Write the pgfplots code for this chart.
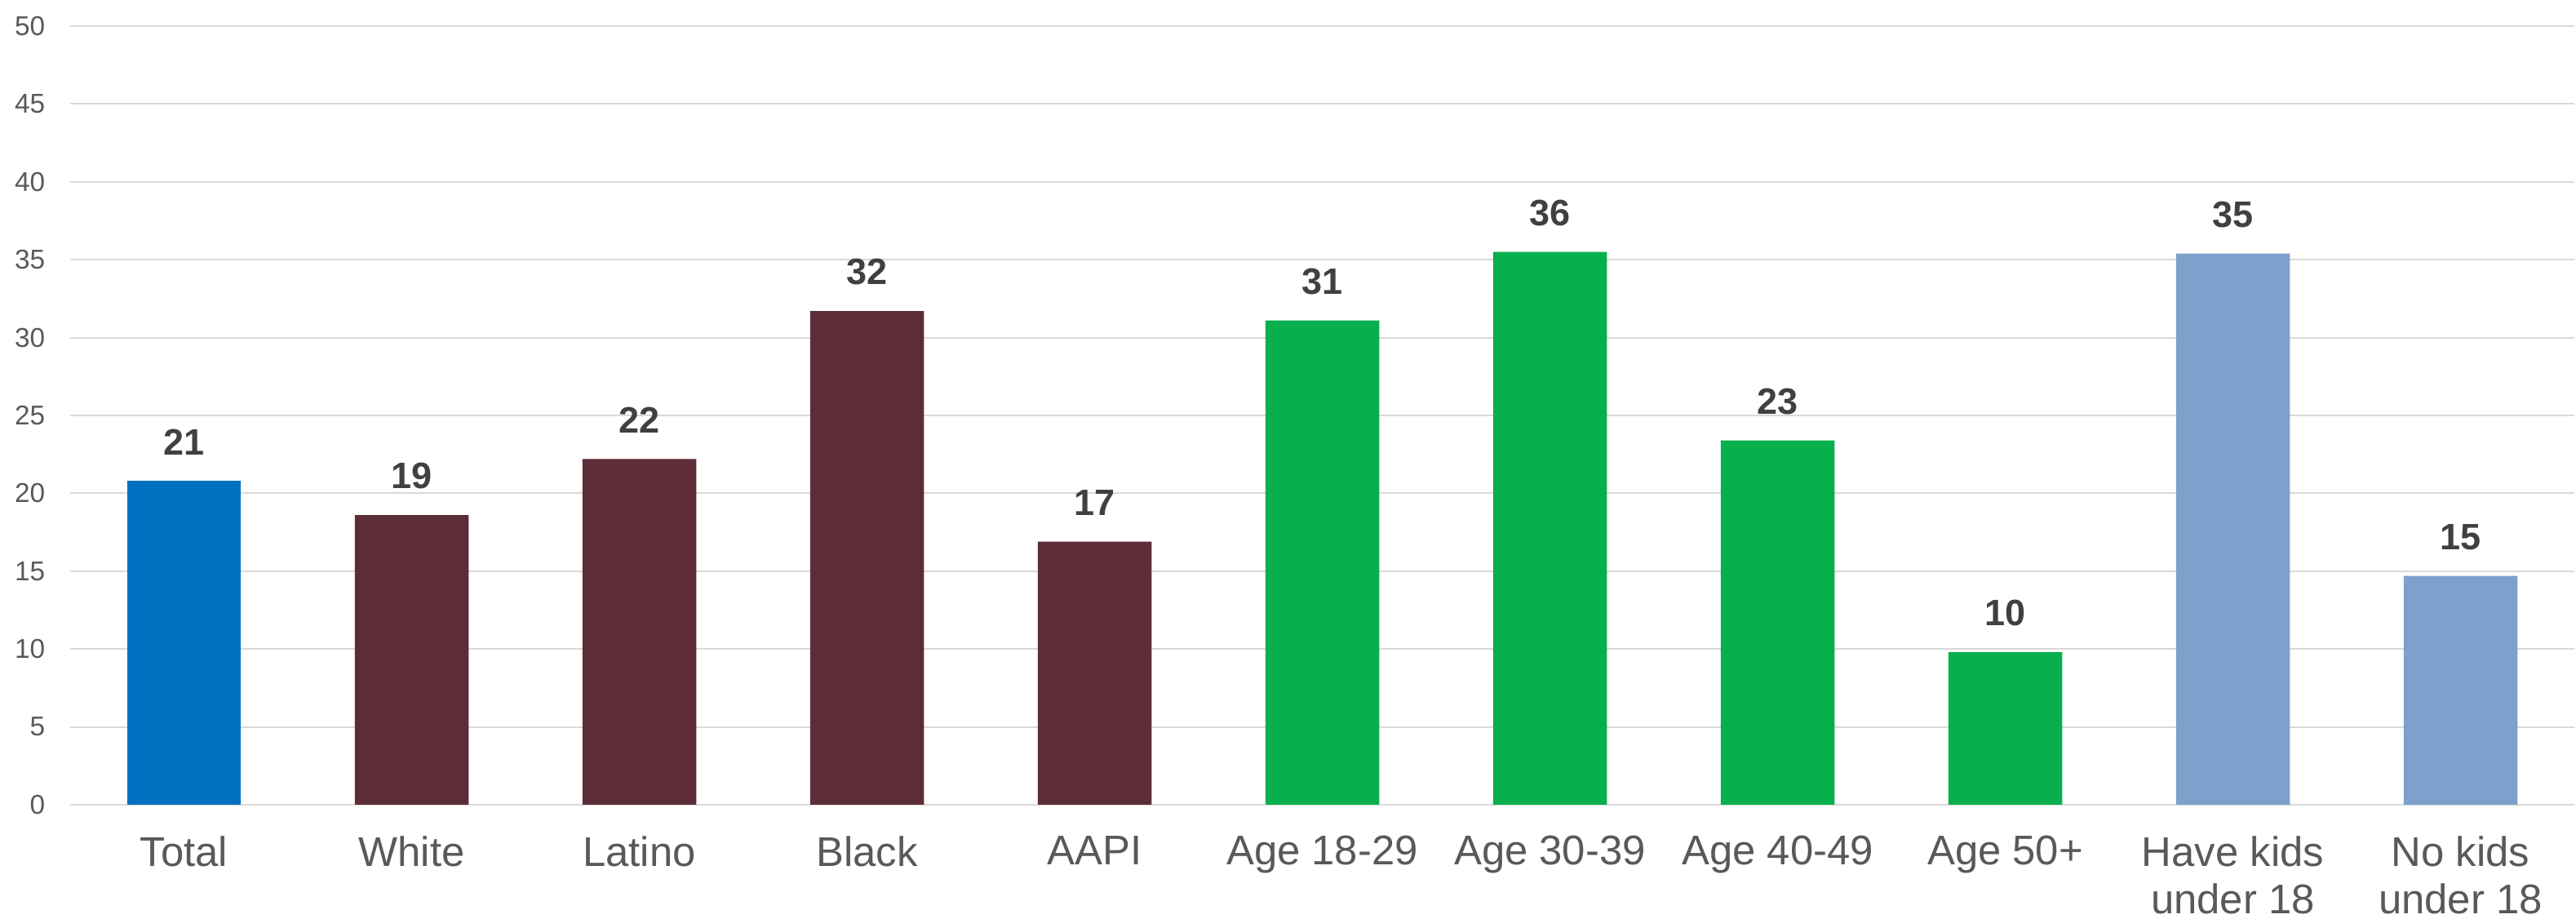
\documentclass[border=0pt]{standalone}
\usepackage{pgfplots}
\pgfplotsset{compat=1.18}
\usepackage{fontspec}
\setmainfont{Liberation Sans}

\definecolor{totalblue}{HTML}{0070C0}
\definecolor{racemaroon}{HTML}{5C2D37}
\definecolor{agegreen}{HTML}{07AF4D}
\definecolor{kidsblue}{HTML}{7EA0CC}
\definecolor{gridgray}{HTML}{D9D9D9}
\definecolor{ticktext}{HTML}{595959}
\definecolor{valtext}{HTML}{404040}

\begin{document}
\begin{tikzpicture}
\begin{axis}[
    name=ax,
    scale only axis,
    width=736.56pt, height=228.96pt,
    ybar, bar width=0.5, bar shift=0pt,
    xmin=-0.5, xmax=10.5,
    ymin=0, ymax=50,
    ytick distance=5,
    xtick={0,...,10},
    xticklabels={Total, White, Latino, Black, AAPI, Age 18-29, Age 30-39, Age 40-49, Age 50+, {Have kids\\under 18}, {No kids\\under 18}},
    axis line style={draw=none},
    major tick length=0pt,
    ymajorgrids,
    grid style={gridgray, line width=0.5pt},
    /pgf/number format/assume math mode=true,
    yticklabel style={font=\fontsize{8}{9.6}\selectfont, text=ticktext, anchor=east, inner sep=0pt, xshift=-7.2pt},
    xticklabel style={font=\fontsize{12.2}{13.9}\selectfont, text=ticktext, align=center, anchor=north, inner sep=0pt, yshift=-9pt},
    nodes near coords,
    nodes near coords style={font=\fontsize{10.8}{12}\selectfont\bfseries, text=valtext, anchor=south, inner sep=0pt, yshift=7.4pt,
        /pgf/number format/.cd, fixed, precision=0},
    every axis plot/.append style={draw=none},
]
% overall
\addplot[fill=totalblue] coordinates {(0,20.8)};
% race / ethnicity
\addplot[fill=racemaroon] coordinates {(1,18.6) (2,22.2) (3,31.7) (4,16.9)};
% age groups
\addplot[fill=agegreen] coordinates {(5,31.1) (6,35.5) (7,23.4) (8,9.8)};
% children in household
\addplot[fill=kidsblue] coordinates {(9,35.4) (10,14.7)};
\end{axis}
\pgfresetboundingbox
\path ([shift={(-20.64pt,-33.6pt)}]ax.south west) rectangle ([shift={(0.48pt,7.68pt)}]ax.north east);
\end{tikzpicture}
\end{document}
